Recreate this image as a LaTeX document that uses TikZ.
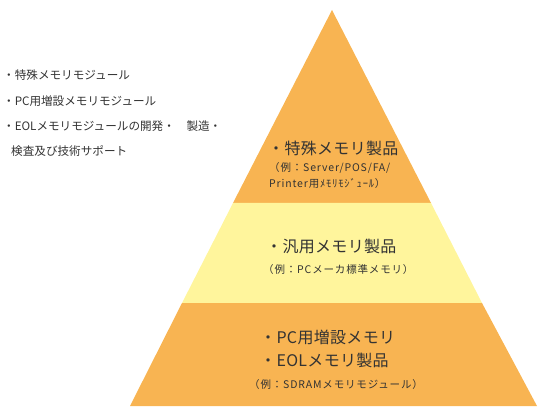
\documentclass[tikz,border=0pt]{standalone}
\usepackage{fontspec}
\newfontfamily\jp{Noto Sans CJK JP}
\newfontfamily\jpsp[LetterSpace=8]{Noto Sans CJK JP}
\newfontfamily\jpbig[LetterSpace=2]{Noto Sans CJK JP}
\definecolor{pyorange}{HTML}{F8B452}
\definecolor{pyyellow}{HTML}{FFF59C}
\definecolor{txt}{HTML}{333333}
\begin{document}
\begin{tikzpicture}[x=1pt,y=-1pt,
  side/.style={anchor=west,inner sep=0pt,font=\jp\fontsize{11.6}{13}\selectfont,text=txt},
  big/.style={anchor=west,inner sep=0pt,font=\jpbig\fontsize{16}{19}\selectfont,text=txt},
  small/.style={anchor=west,inner sep=0pt,font=\jpsp\fontsize{10.5}{13}\selectfont,text=txt}]
\useasboundingbox (0,0) rectangle (545,419);
\coordinate (apex) at (332,10);
\coordinate (bl) at (130,406);
\coordinate (br) at (537,406);
\coordinate (t1l) at (233,203);
\coordinate (t1r) at (431,203);
\coordinate (t2l) at (182,303);
\coordinate (t2r) at (482,303);
\fill[pyorange] (apex) -- (t1r) -- (t1l) -- cycle;
\fill[pyyellow] (t1l) -- (t1r) -- (t2r) -- (t2l) -- cycle;
\fill[pyorange] (t2l) -- (t2r) -- (br) -- (bl) -- cycle;
\node[side] (s1) at (3,75) {・特殊メモリモジュール};
\node[side] (s2) at (3,101) {・PC用増設メモリモジュール};
\node[side] (s3) at (3,126) {・EOLメモリモジュールの開発・　製造・};
\node[side] (s4) at (11,151) {検査及び技術サポート};
\node[big] (a1) at (268,148) {・特殊メモリ製品};
\node[small] (a2) at (269,168) {（例：Server/POS/FA/};
\node[small] (a3) at (269,184) {Printer用ﾒﾓﾘﾓｼﾞｭｰﾙ）};
\node[big] (b1) at (266,246) {・汎用メモリ製品};
\node[small] (b2) at (263,270) {（例：PCメーカ標準メモリ）};
\node[big] (c1) at (260,337) {・PC用増設メモリ};
\node[big] (c2) at (260,360) {・EOLメモリ製品};
\node[small] (c3) at (249,385) {（例：SDRAMメモリモジュール）};
\end{tikzpicture}
\end{document}
